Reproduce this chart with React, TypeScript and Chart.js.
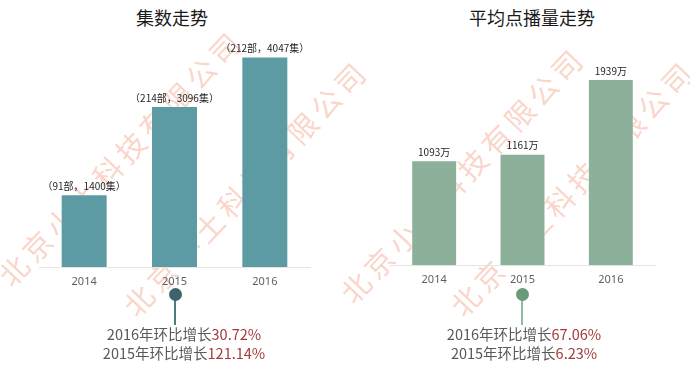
import React, { useEffect, useRef } from "react";
import { Chart, registerables } from "chart.js";

Chart.register(...registerables);

const years = ["2014", "2015", "2016"];
const dramaCounts = [91, 214, 212];
const episodeCounts = [1400, 3096, 4047];
const avgViews = [1093, 1161, 1939];
const episodeGrowthYears = ["2016", "2015"];
const episodeGrowth = ["30.72%", "121.14%"];
const viewGrowthYears = ["2016", "2015"];
const viewGrowth = ["67.06%", "6.23%"];
const watermarkText = "北京小土科技有限公司";

const CJK = '"Noto Sans CJK SC", "Noto Sans", sans-serif';

type BarChartProps = {
  left: number;
  width: number;
  height: number;
  values: number[];
  labels: string[];
  color: string;
  yMax: number;
  padLeft: number;
  padRight: number;
  padTop: number;
  axisHeight: number;
};

function BarChart(props: BarChartProps) {
  const ref = useRef<HTMLCanvasElement | null>(null);
  useEffect(() => {
    if (!ref.current) return;
    const labelPlugin = {
      id: "barLabels",
      afterDatasetsDraw(chart: any) {
        const ctx = chart.ctx;
        const meta = chart.getDatasetMeta(0);
        ctx.save();
        ctx.font = `10px ${CJK}`;
        ctx.fillStyle = "#262626";
        ctx.textAlign = "center";
        ctx.textBaseline = "middle";
        meta.data.forEach((el: any, i: number) => {
          ctx.fillText(props.labels[i], el.x, el.y - 8);
        });
        ctx.restore();
      },
    };
    const chart = new Chart(ref.current, {
      type: "bar",
      data: {
        labels: years,
        datasets: [
          {
            data: props.values,
            backgroundColor: props.color,
            borderColor: "rgba(255,255,255,0.35)",
            borderWidth: 1,
            categoryPercentage: 1,
            barPercentage: 0.52,
          },
        ],
      },
      options: {
        responsive: false,
        animation: false,
        devicePixelRatio: 1,
        layout: {
          padding: { left: props.padLeft, right: props.padRight, top: props.padTop, bottom: 0 },
        },
        plugins: {
          legend: { display: false },
          tooltip: { enabled: false },
          title: { display: false },
        },
        scales: {
          x: {
            grid: { display: false, drawTicks: false },
            border: { display: true, color: "#e4e4e4", width: 1 },
            ticks: {
              color: "#5f5f5f",
              font: { family: '"Noto Sans", sans-serif', size: 11 },
              padding: 8,
            },
            afterFit: (axis: any) => {
              axis.height = props.axisHeight;
            },
          },
          y: {
            display: false,
            min: 0,
            max: props.yMax,
          },
        },
      },
      plugins: [labelPlugin],
    });
    return () => chart.destroy();
  }, []);
  return (
    <canvas
      ref={ref}
      width={props.width}
      height={props.height}
      style={{ position: "absolute", left: props.left, top: 0, width: props.width, height: props.height }}
    />
  );
}

function Pin(props: { x: number; dot: string; stem: string }) {
  return (
    <>
      <div
        style={{
          position: "absolute",
          left: props.x - 1,
          top: 294,
          width: 2,
          height: 31,
          background: props.stem,
        }}
      />
      <div
        style={{
          position: "absolute",
          left: props.x - 6.5,
          top: 287.5,
          width: 13,
          height: 13,
          borderRadius: "50%",
          background: props.dot,
        }}
      />
    </>
  );
}

function GrowthText(props: { cx: number; yrs: string[]; vals: string[] }) {
  return (
    <div
      style={{
        position: "absolute",
        left: props.cx - 120,
        width: 240,
        top: 325,
        textAlign: "center",
        fontFamily: CJK,
        fontSize: 14.5,
        lineHeight: "18.5px",
        color: "#595959",
        whiteSpace: "nowrap",
      }}
    >
      {props.yrs.map((y, i) => (
        <div key={i}>
          {y}年环比增长<span style={{ color: "#a33b3b" }}>{props.vals[i]}</span>
        </div>
      ))}
    </div>
  );
}

const wmStarts = [
  [13, 270],
  [138, 300],
  [355, 287],
  [465, 300],
];

function Watermark() {
  const ang = (46.5 * Math.PI) / 180;
  const fs = 29;
  return (
    <>
      {wmStarts.map(([cx, cy], i) => {
        const ox = cx - (fs / 2) * Math.cos(ang);
        const oy = cy + (fs / 2) * Math.sin(ang);
        return (
          <div
            key={i}
            style={{
              position: "absolute",
              left: ox,
              top: oy - fs / 2,
              fontSize: fs,
              lineHeight: `${fs}px`,
              letterSpacing: 5,
              fontFamily: CJK,
              color: "rgba(240,110,70,0.3)",
              whiteSpace: "nowrap",
              transform: "rotate(-46.5deg)",
              transformOrigin: "0 50%",
              pointerEvents: "none",
            }}
          >
            {watermarkText}
          </div>
        );
      })}
    </>
  );
}

export default function App() {
  const epLabels = years.map((_, i) => `（${dramaCounts[i]}部，${episodeCounts[i]}集）`);
  const viewLabels = years.map((_, i) => `${avgViews[i]}万`);
  return (
    <div
      style={{
        position: "fixed",
        left: 0,
        top: 0,
        width: 690,
        height: 365,
        background: "#ffffff",
        overflow: "hidden",
      }}
    >
      <Watermark />
      <div
        style={{
          position: "absolute",
          left: 72,
          width: 200,
          top: 5,
          textAlign: "center",
          fontFamily: CJK,
          fontSize: 18,
          color: "#1a1a1a",
          lineHeight: "24px",
        }}
      >
        集数走势
      </div>
      <div
        style={{
          position: "absolute",
          left: 432,
          width: 200,
          top: 5,
          textAlign: "center",
          fontFamily: CJK,
          fontSize: 18,
          color: "#1a1a1a",
          lineHeight: "24px",
        }}
      >
        平均点播量走势
      </div>
      <BarChart
        left={0}
        width={345}
        height={300}
        values={episodeCounts}
        labels={epLabels}
        color="#5c9ba3"
        yMax={4500}
        padLeft={39}
        padRight={35}
        padTop={33}
        axisHeight={33}
      />
      <BarChart
        left={345}
        width={345}
        height={300}
        values={avgViews}
        labels={viewLabels}
        color="#8db09a"
        yMax={2200}
        padLeft={45}
        padRight={35}
        padTop={54}
        axisHeight={35}
      />
      <Pin x={175} dot="#3d6569" stem="#4d7a7e" />
      <Pin x={522} dot="#6a9a7b" stem="#92bc9f" />
      <GrowthText cx={184} yrs={episodeGrowthYears} vals={episodeGrowth} />
      <GrowthText cx={524} yrs={viewGrowthYears} vals={viewGrowth} />
    </div>
  );
}
